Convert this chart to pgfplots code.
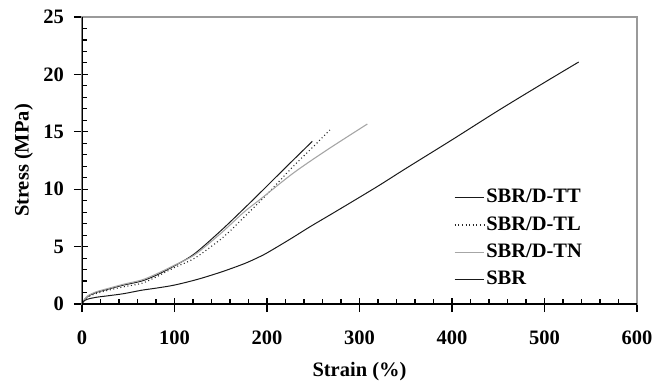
\documentclass[border=0pt]{standalone}
\usepackage{pgfplots}
\pgfplotsset{compat=1.18}
\usepackage{fontspec}
\setmainfont{Liberation Serif}
\definecolor{tngray}{HTML}{A6A6A6}
\definecolor{framegray}{HTML}{9A9A9A}
\begin{document}
\fontsize{20.5}{24}\selectfont
\begin{tikzpicture}
\path[use as bounding box] (-82pt,-77pt) rectangle (571pt,304pt);
\begin{axis}[
  scale only axis,
  width=555pt, height=287pt,
  xmin=0, xmax=600, ymin=0, ymax=25,
  xtick={0,100,...,600}, ytick={0,5,...,25},
  minor x tick num=4, minor y tick num=4,
  xtick pos=bottom, ytick pos=left,
  tick align=inside,
  major tick length=14pt, minor tick length=5pt,
  major x tick style={yshift=-8pt},
  major y tick style={xshift=-8pt},
  tick style={black, line width=1.1pt},
  axis line style={framegray, line width=1.2pt},
  /pgf/number format/assume math mode=true,
  tick label style={font=\fontsize{20.5}{24}\selectfont\bfseries},
  xticklabel style={anchor=north, yshift=-20pt},
  yticklabel style={anchor=east, xshift=-11pt},
  xlabel={Strain (\%)}, ylabel={Stress (MPa)},
  label style={font=\fontsize{20.5}{24}\selectfont\bfseries},
  xlabel style={at={(axis description cs:0.5,-0.236)}, anchor=center},
  ylabel style={at={(axis description cs:-0.105,0.5)}, anchor=center},
  legend style={draw=none, fill=none, at={(axis cs:400,10.35)}, anchor=north west,
    font=\fontsize{20.5}{24}\selectfont\bfseries, row sep=6.6pt, inner sep=2pt},
  legend cell align=left,
  legend image code/.code={\draw[#1] (0pt,0pt) -- (29pt,0pt);},
]
\addplot[black!90, line width=1pt, smooth] coordinates {
(0,0) (2,0.3) (6,0.65) (15,1.0) (28.5,1.3) (45,1.65) (64.5,2.0) (80,2.5)
(100.5,3.35) (122,4.4) (151,6.45) (175,8.3) (192,9.64) (221,11.96) (249,14.17)};
\addlegendentry{SBR/D-TT}
\addplot[black!85, line width=1.1pt, dash pattern=on 1pt off 2.6pt, smooth] coordinates {
(0,0) (2,0.28) (6,0.6) (15,0.9) (28.5,1.2) (45,1.5) (64.5,1.8) (80,2.35)
(100.5,3.2) (122,4.0) (151,5.7) (160,6.35) (180,7.95) (201,9.64) (228,11.96)
(250,13.7) (268,15.16)};
\addlegendentry{SBR/D-TL}
\addplot[tngray, line width=1.1pt, smooth] coordinates {
(0,0) (2,0.32) (6,0.7) (15,1.05) (28.5,1.36) (45,1.72) (64.5,2.09) (80,2.6)
(100.5,3.4) (122,4.3) (150,6.15) (175,8.0) (192.4,9.1) (228.4,11.4)
(264.5,13.4) (308.5,15.68)};
\addlegendentry{SBR/D-TN}
\addplot[black!90, line width=1pt, smooth] coordinates {
(0,0) (2,0.25) (6,0.42) (15,0.58) (28.5,0.72) (45,0.9) (64.5,1.2) (80,1.38)
(100,1.65) (125,2.15) (151,2.8) (175,3.5) (189,4.0) (200,4.45) (225,5.65)
(246.5,6.73) (270,7.85) (297,9.15) (322,10.37) (350,11.8) (400,14.3)
(450,16.85) (500,19.3) (537,21.08)};
\addlegendentry{SBR}
\draw[black, line width=1.3pt] (rel axis cs:0,1) -- (rel axis cs:0,0) -- (rel axis cs:1,0);
\end{axis}
\end{tikzpicture}
\end{document}
